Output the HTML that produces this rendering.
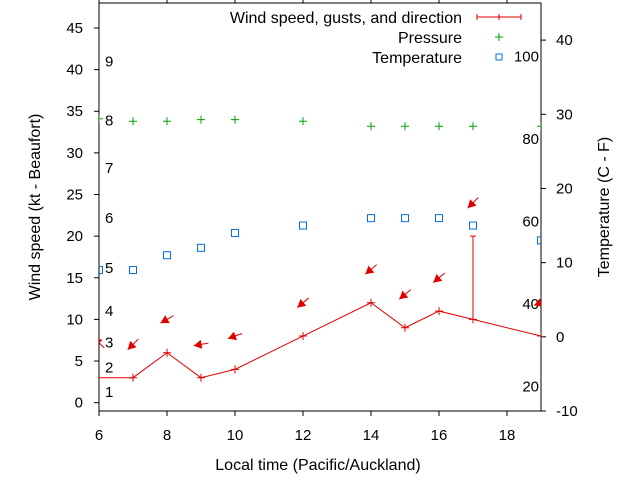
<!DOCTYPE html>
<html><head><meta charset="utf-8"><style>
body{margin:0;background:#fff}
svg{display:block;font-family:"Liberation Sans",Arial,sans-serif;font-size:15px}
.big{font-size:16px}
</style></head><body>
<svg id="chart" width="640" height="480" viewBox="0 0 640 480" xmlns="http://www.w3.org/2000/svg">
<defs><clipPath id="clip"><rect x="99" y="3" width="442" height="408"/></clipPath></defs>
<g id="axes"></g>
<g id="plot" clip-path="url(#clip)"></g>
<g id="legend" class="big">
<text x="462" y="23" text-anchor="end">Wind speed, gusts, and direction</text>
<g stroke="#e00000" stroke-width="1"><line x1="477" y1="17" x2="521" y2="17"/><line x1="477" y1="14" x2="477" y2="20"/><line x1="521" y1="14" x2="521" y2="20"/><line x1="499" y1="14" x2="499" y2="20"/></g>
<text x="462" y="43" text-anchor="end">Pressure</text>
<g stroke="#00a000"><line x1="495" y1="37" x2="503" y2="37"/><line x1="499" y1="33" x2="499" y2="41"/></g>
<text x="462" y="63" text-anchor="end">Temperature</text>
<rect x="496" y="54" width="6" height="6" fill="none" stroke="#0070e0"/>
</g>
</svg>
<script>
const hours = [7, 8, 9, 10, 12, 14, 15, 16, 17, 19];
const windKt = [3, 6, 3, 4, 8, 12, 9, 11, 10, 8];
const windStart = [5, 3];
const gustHours = [17];
const gustKt = [20];
const pressHours = [6, 7, 8, 9, 10, 12, 14, 15, 16, 17, 19];
const pressVal = [34.1, 33.8, 33.8, 34, 34, 33.8, 33.2, 33.2, 33.2, 33.2, 33.2];
const tempHours = [6, 7, 8, 9, 10, 12, 14, 15, 16, 17, 19];
const tempC = [9, 9, 11, 12, 14, 15, 16, 16, 16, 15, 13];
const arrowHours = [6, 7, 8, 9, 10, 12, 14, 15, 16, 17, 19];
const arrowKt = [7.2, 7, 10, 7, 8, 12, 16, 13, 15, 24, 12];
const windDirDeg = [135, 45, 60, 80, 70, 50, 50, 50, 50, 45, 70];
const xTicks = [6, 8, 10, 12, 14, 16, 18];
const yTicks = [0, 5, 10, 15, 20, 25, 30, 35, 40, 45];
const y2Ticks = [-10, 0, 10, 20, 30, 40];
const fTicks = [20, 40, 60, 80, 100];
const beaufort = [[1, 1.3], [2, 4.2], [3, 7.2], [4, 11], [5, 16.2], [6, 22.2], [7, 28.2], [8, 33.9], [9, 41]];

const L = 99, R = 541, T = 3, B = 411;
const X = h => L + (h - 6) * (R - L) / 13;
const Y = v => B - (v + 1) * (B - T) / 49;
const Y2 = c => B - (c + 10) * (B - T) / 55;
const NS = 'http://www.w3.org/2000/svg';
function mk(tag, attrs, parent, text) {
  const e = document.createElementNS(NS, tag);
  for (const k in attrs) e.setAttribute(k, attrs[k]);
  if (text !== undefined) e.textContent = text;
  parent.appendChild(e);
  return e;
}
const ax = document.getElementById('axes');
const pl = document.getElementById('plot');

let r = mk('rect', {x: L, y: T, width: R - L, height: B - T, fill: 'none', stroke: '#000'}, ax);


xTicks.forEach(h => {
  mk('line', {x1: X(h), y1: B, x2: X(h), y2: B + 5, stroke: '#000'}, ax);
  mk('line', {x1: X(h), y1: T, x2: X(h), y2: T - 5, stroke: '#000'}, ax);
  const t = mk('text', {x: X(h), y: 440, 'text-anchor': 'middle'}, ax, h);
  
  
});
yTicks.forEach(v => {
  mk('line', {x1: L - 5, y1: Y(v), x2: L, y2: Y(v), stroke: '#000'}, ax);
  const t = mk('text', {x: 83, y: Y(v) + 5, 'text-anchor': 'end'}, ax, v);
  
  
});
y2Ticks.forEach(c => {
  mk('line', {x1: R, y1: Y2(c), x2: R + 5, y2: Y2(c), stroke: '#000'}, ax);
  const t = mk('text', {x: 556, y: Y2(c) + 5, 'text-anchor': 'start'}, ax, c);
  
  
});
fTicks.forEach(f => {
  const t = mk('text', {x: 539, y: Y2((f - 32) * 5 / 9) + 5, 'text-anchor': 'end'}, ax, f);
  
  
});
beaufort.forEach(b => {
  const t = mk('text', {x: 105, y: Y(b[1]) + 5}, ax, b[0]);
  
  
});
let t1 = mk('text', {x: 0, y: 0, 'text-anchor': 'middle', class: 'big', transform: 'translate(40,207) rotate(-90)'}, ax, 'Wind speed (kt - Beaufort)');


let t2 = mk('text', {x: 0, y: 0, 'text-anchor': 'middle', class: 'big', transform: 'translate(609,207) rotate(-90)'}, ax, 'Temperature (C - F)');


let t3 = mk('text', {x: 318, y: 470, 'text-anchor': 'middle', class: 'big'}, ax, 'Local time (Pacific/Auckland)');



let pts = [[X(windStart[0]), Y(windStart[1])]].concat(hours.map((h, i) => [X(h), Y(windKt[i])]));
let wl = mk('polyline', {points: pts.map(p => p.join(',')).join(' '), fill: 'none', stroke: '#e00000'}, pl);


hours.forEach((h, i) => {
  const g = mk('path', {d: `M${X(h)-4},${Y(windKt[i])}h8M${X(h)},${Y(windKt[i])-4}v8`, stroke: '#e00000'}, pl);
  
  
});
gustHours.forEach((h, i) => {
  const base = windKt[hours.indexOf(h)];
  const g = mk('path', {d: `M${X(h)},${Y(base)}V${Y(gustKt[i])}M${X(h)-3},${Y(gustKt[i])}h6`, stroke: '#e00000'}, pl);
  
  
});
pressHours.forEach((h, i) => {
  const g = mk('path', {d: `M${X(h)-4},${Y(pressVal[i])}h8M${X(h)},${Y(pressVal[i])-4}v8`, stroke: '#00a000'}, pl);
  
  
});
tempHours.forEach((h, i) => {
  const g = mk('rect', {x: X(h) - 3.5, y: Y2(tempC[i]) - 3.5, width: 7, height: 7, fill: 'none', stroke: '#0070e0'}, pl);
  
  
});
arrowHours.forEach((h, i) => {
  const cx = X(h), cy = Y(arrowKt[i]);
  const a = windDirDeg[i] * Math.PI / 180;
  const dx = -Math.sin(a), dy = Math.cos(a);
  const len = 15;
  const tx = cx - dx * len / 2, ty = cy - dy * len / 2;
  const hx = cx + dx * len / 2, hy = cy + dy * len / 2;
  const px = -dy, py = dx;
  const g = mk('g', {}, pl);
  
  
  mk('line', {x1: tx, y1: ty, x2: hx, y2: hy, stroke: '#e00000'}, g);
  mk('polygon', {points: `${hx},${hy} ${hx-dx*8+px*4.5},${hy-dy*8+py*4.5} ${hx-dx*8-px*4.5},${hy-dy*8-py*4.5}`, fill: '#e00000'}, g);
});
</script>
</body></html>
